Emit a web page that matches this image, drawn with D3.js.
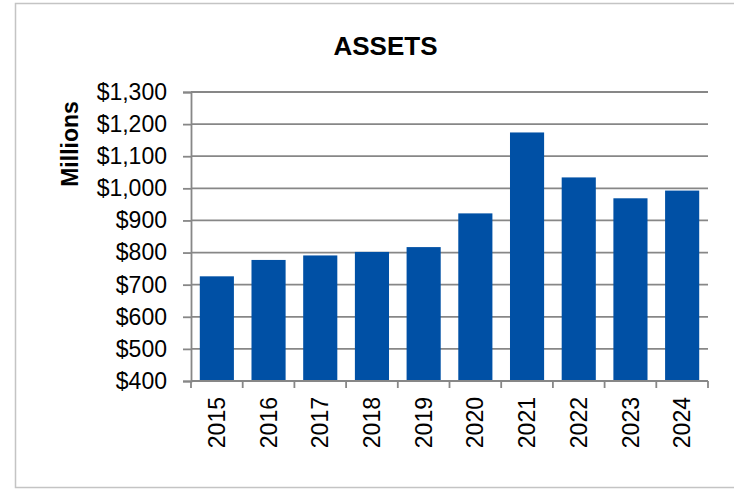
<!DOCTYPE html>
<html>
<head>
<meta charset="utf-8">
<script src="https://cdn.jsdelivr.net/npm/d3@7"></script>
<style>
  body { margin: 0; background: #fff; }
  text { font-family: "Liberation Sans", Arial, sans-serif; fill: #000; }
</style>
</head>
<body>
<svg id="chart"></svg>
<script>
const years = ['2015', '2016', '2017', '2018', '2019', '2020', '2021', '2022', '2023', '2024'];
const assets = [726, 777, 791, 802, 817, 922, 1174, 1034, 969, 993];
const yTicks = [400, 500, 600, 700, 800, 900, 1000, 1100, 1200, 1300];

const width = 734;
const height = 489;
const margin = { top: 92, right: 26, bottom: 108, left: 191 };

const svg = d3.select('#chart')
  .attr('width', width)
  .attr('height', height)
  .attr('viewBox', `0 0 ${width} ${height}`);

// outer frame
svg.append('rect')
  .attr('x', 15.5)
  .attr('y', 3.5)
  .attr('width', 740)
  .attr('height', 484)
  .attr('fill', '#fff')
  .attr('stroke', '#c4c4c4')
  .attr('stroke-width', 1.5);

const x = d3.scaleBand()
  .domain(years)
  .range([margin.left, width - margin.right])
  .paddingInner(0.34)
  .paddingOuter(0.17);

const y = d3.scaleLinear()
  .domain([400, 1300])
  .range([height - margin.bottom, margin.top]);

// gridlines + y axis
const yAxis = d3.axisLeft(y)
  .tickValues(yTicks)
  .tickSize(8)
  .tickPadding(16)
  .tickFormat(d => '$' + d3.format(',')(d));

const gy = svg.append('g')
  .attr('transform', 'translate(' + margin.left + ',0)')
  .call(yAxis);
gy.select('.domain').attr('stroke', '#878787').attr('stroke-width', 1.8);
gy.selectAll('.tick line').attr('stroke', '#878787').attr('stroke-width', 1.8);
gy.selectAll('.tick text').style('font-size', '23px');

svg.append('g')
  .selectAll('line')
  .data(yTicks)
  .join('line')
  .attr('x1', margin.left)
  .attr('x2', width - margin.right)
  .attr('y1', d => y(d))
  .attr('y2', d => y(d))
  .attr('stroke', '#878787')
  .attr('stroke-width', 1.8);

// bars
svg.append('g')
  .selectAll('rect')
  .data(years)
  .join('rect')
  .attr('x', d => x(d))
  .attr('y', (d, i) => y(assets[i]))
  .attr('width', x.bandwidth())
  .attr('height', (d, i) => y(400) - y(assets[i]))
  .attr('fill', '#0050a5');

// x axis line with ticks between categories
const edge = d3.scaleLinear()
  .domain([0, years.length])
  .range([margin.left, width - margin.right]);

const baseY = y(400);
const gx = svg.append('g');
gx.append('line')
  .attr('x1', margin.left)
  .attr('x2', width - margin.right)
  .attr('y1', baseY)
  .attr('y2', baseY)
  .attr('stroke', '#878787')
  .attr('stroke-width', 1.8);
gx.selectAll('line.tk')
  .data(d3.range(years.length + 1))
  .join('line')
  .attr('class', 'tk')
  .attr('x1', d => edge(d))
  .attr('x2', d => edge(d))
  .attr('y1', baseY)
  .attr('y2', baseY + 7)
  .attr('stroke', '#878787')
  .attr('stroke-width', 1.8);

gx.selectAll('text')
  .data(years)
  .join('text')
  .attr('transform', d => 'translate(' + (x(d) + x.bandwidth() / 2) + ',' + (baseY + 16) + ') rotate(-90)')
  .attr('text-anchor', 'end')
  .attr('dy', '0.35em')
  .style('font-size', '23px')
  .text(d => d);

// title
svg.append('text')
  .attr('x', 385.5)
  .attr('y', 55)
  .attr('text-anchor', 'middle')
  .style('font-size', '26px')
  .style('font-weight', 'bold')
  .text('ASSETS');

// y label
svg.append('text')
  .attr('transform', 'translate(70,144) rotate(-90)')
  .attr('text-anchor', 'middle')
  .attr('dy', '0.35em')
  .style('font-size', '23px')
  .style('font-weight', 'bold')
  .text('Millions');
</script>
</body>
</html>
